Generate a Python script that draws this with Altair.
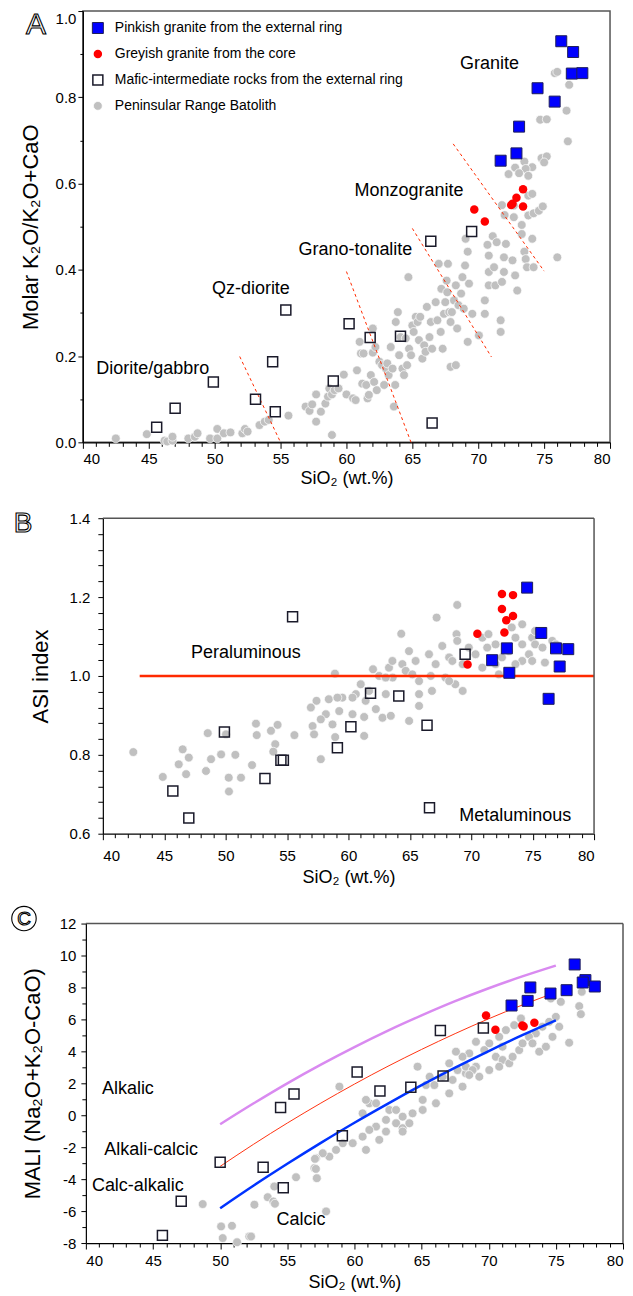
import altair as alt
import pandas as pd

FONT = "Liberation Sans"
FRAME = "#555555"
GROUPS = ["Pinkish granite from the external ring",
          "Greyish granite from the core",
          "Mafic-intermediate rocks from the external ring",
          "Peninsular Range Batolith"]
SHAPES = ["square", "circle", "square", "circle"]
FILLS = ["#0000ff", "#ff0000", "transparent", "#c0c0c0"]

# ---------------- Panel A data ----------------
A_pink_x = [76.3, 77.2, 77.1, 77.9, 74.5, 75.8, 73.1, 72.9, 71.7]
A_pink_y = [0.930, 0.905, 0.855, 0.856, 0.821, 0.790, 0.732, 0.670, 0.653]
A_grey_x = [73.4, 72.9, 72.6, 72.5, 73.4, 69.7, 70.5]
A_grey_y = [0.587, 0.567, 0.553, 0.550, 0.547, 0.540, 0.512]
A_mafic_x = [69.5, 66.4, 55.4, 54.4, 49.9, 53.1, 47.0, 54.6, 45.6, 60.2, 61.8, 64.1, 59.0, 66.5]
A_mafic_y = [0.489, 0.466, 0.307, 0.187, 0.140, 0.100, 0.079, 0.071, 0.035, 0.275, 0.243, 0.246, 0.142, 0.045]
A_prb_x = [42.5, 44.85, 46.2, 46.4, 46.8, 46.8, 48.0, 48.5, 48.7, 49.65, 50.2, 50.2, 50.7, 51.2,
           52.1, 52.3, 52.5, 53.4, 53.8, 54.1, 55.6, 56.9, 57.2, 57.4, 57.7, 57.7, 58.06,
           58.4, 58.6, 58.7, 58.9, 58.9, 59.1, 59.4, 59.8, 60.0, 60.5, 60.7, 60.8, 61.0, 61.1,
           61.2, 61.3, 61.5, 61.6, 61.7, 61.85, 62.0, 62.0, 62.1, 62.2, 62.3, 62.5, 62.7, 62.86,
           63.0, 63.1, 63.2, 63.36, 63.5, 63.6, 63.7, 63.74, 63.9, 64.0, 64.1, 64.25, 64.37, 64.5,
           64.6, 64.7, 64.75, 64.9, 65.0, 65.1, 65.26, 65.4, 65.5, 65.6, 65.76, 65.9, 66.0, 66.1,
           66.3, 66.4, 66.5, 66.77, 66.9, 67.0, 67.15, 67.2, 67.3, 67.4, 67.5, 67.6, 67.65, 67.7,
           67.8, 67.9, 67.9, 68.0, 68.16, 68.3, 68.3, 68.4, 68.5, 68.7, 68.8, 68.9, 69.0, 69.04,
           69.2, 69.2, 69.3, 69.55, 70.05, 70.5, 70.5, 70.7, 70.8, 70.8, 70.8, 71.1, 71.2, 71.3,
           71.4, 71.7, 71.7, 71.8, 71.95, 71.95, 72.1, 72.6, 72.8, 72.96, 73.3, 73.5, 73.6, 73.7,
           74.1, 74.2, 76.0,
           75.81, 76.0, 76.9, 76.7, 74.7, 75.2, 76.8, 74.8, 75.2, 75.0, 73.5, 74.1, 72.8, 73.6,
           72.3, 73.1, 73.8, 73.8, 74.1, 71.8, 72.7, 72.0, 72.7, 73.8, 74.2, 74.6, 74.9, 73.3]
A_prb_y = [0.009, 0.019, 0.004, 0.002, 0.004, 0.013, 0.009, 0.013, 0.021, 0.009, 0.031, 0.009, 0.021, 0.023,
           0.021, 0.031, 0.025, 0.040, 0.048, 0.052, 0.062, 0.083, 0.073, 0.088, 0.111, 0.048, 0.071,
           0.090, 0.106, 0.125, 0.111, 0.017, 0.121, 0.125, 0.157, 0.111, 0.102, 0.098, 0.167, 0.233, 0.206,
           0.136, 0.206, 0.133, 0.102, 0.110, 0.156, 0.264, 0.208, 0.140, 0.221, 0.121, 0.187, 0.179, 0.133,
           0.171, 0.183, 0.156, 0.221, 0.171, 0.083, 0.133, 0.279, 0.302, 0.202, 0.244, 0.171, 0.156, 0.241,
           0.179, 0.383, 0.217, 0.202, 0.271, 0.256, 0.291, 0.279, 0.237, 0.291, 0.194, 0.225, 0.210, 0.314,
           0.244, 0.279, 0.217, 0.325, 0.283, 0.414, 0.256, 0.356, 0.217, 0.298, 0.325, 0.375, 0.348, 0.414,
           0.302, 0.279, 0.175, 0.302, 0.329, 0.364, 0.179, 0.264, 0.318, 0.345, 0.383, 0.310, 0.410, 0.472,
           0.442, 0.233, 0.368, 0.298, 0.248, 0.298, 0.329, 0.458, 0.433, 0.395, 0.364, 0.478, 0.406, 0.364,
           0.464, 0.283, 0.256, 0.372, 0.395, 0.429, 0.460, 0.422, 0.387, 0.352, 0.483, 0.442, 0.425, 0.406,
           0.472, 0.406, 0.429,
           0.856, 0.859, 0.829, 0.769, 0.748, 0.749, 0.698, 0.659, 0.663, 0.649, 0.651, 0.638, 0.637, 0.634,
           0.622, 0.624, 0.618, 0.572, 0.576, 0.550, 0.549, 0.527, 0.522, 0.526, 0.531, 0.537, 0.547, 0.504]
A_seg_id = ["l1", "l1", "l2", "l2", "l3", "l3", "l4", "l4"]
A_seg_x = [51.9, 55.0, 60.0, 64.9, 65.0, 71.0, 68.1, 75.0]
A_seg_y = [0.199, 0.0, 0.396, 0.0, 0.496, 0.198, 0.692, 0.397]
A_lab_t = ["Granite", "Monzogranite", "Grano-tonalite", "Qz-diorite", "Diorite/gabbro"]
A_lab_x = [70.86, 64.75, 60.68, 52.75, 45.3]
A_lab_y = [0.878, 0.582, 0.447, 0.356, 0.171]
A_xticks = list(range(40, 81))
A_yticks = [0.0, 0.1, 0.2, 0.3, 0.4, 0.5, 0.6, 0.7, 0.8, 0.9, 1.0]

# ---------------- Panel B data ----------------
B_pink_x = [74.55, 75.7, 76.9, 77.9, 72.9, 71.7, 77.2, 73.1, 76.3]
B_pink_y = [1.224, 1.109, 1.070, 1.068, 1.070, 1.040, 1.024, 1.008, 0.942]
B_grey_x = [72.5, 73.4, 72.5, 72.85, 73.4, 72.7, 70.5, 69.7]
B_grey_y = [1.208, 1.205, 1.170, 1.141, 1.152, 1.110, 1.107, 1.029]
B_mafic_x = [69.5, 55.45, 61.8, 64.1, 66.4, 60.2, 59.1, 49.9, 54.5, 54.7, 53.2, 45.7, 47.0, 66.6]
B_mafic_y = [1.055, 1.150, 0.956, 0.949, 0.875, 0.871, 0.818, 0.858, 0.786, 0.786, 0.740, 0.708, 0.640, 0.666]
B_prb_x = [68.86, 67.18, 64.3, 58.9, 62.0, 68.8, 68.86, 67.64, 66.56, 64.93, 65.47, 64.39, 63.3, 62.5,
           61.0, 61.68, 59.5, 57.4, 58.4, 60.6, 63.6, 64.66, 67.1, 68.2, 69.3, 70.35, 70.9, 71.4,
           71.3, 71.98, 72.25, 71.98, 73.3, 74.15, 73.6, 74.15, 74.96, 75.2, 74.7, 74.15, 73.6,
           74.96, 75.8, 76.0, 76.6, 76.9, 75.2, 73.06, 72.5, 68.7, 69.3, 65.75, 63.0, 67.9, 69.8,
           70.9, 66.7,
           63.58, 63.04, 65.2, 65.75, 68.46, 68.2, 65.75, 63.04, 61.4, 60.33, 59.1, 56.94, 58.16,
           59.25, 60.33, 61.28, 62.23, 62.77, 63.45, 64.94, 66.8, 57.75, 57.08, 57.2, 58.7, 58.92,
           61.28, 57.75, 55.6, 54.23, 53.69, 54.04, 53.88, 52.47, 52.53, 52.15, 50.79, 50.25, 51.25,
           49.63, 48.81, 48.4, 46.78, 47.0, 46.5, 46.18, 44.88, 48.54, 50.03, 42.48, 50.27]
B_prb_y = [1.180, 1.148, 1.107, 1.006, 1.017, 1.106, 1.089, 1.076, 1.055, 1.063, 1.038, 1.030, 1.021, 1.000,
           0.979, 0.962, 0.945, 0.937, 0.941, 0.954, 0.996, 1.013, 1.030, 1.047, 1.030, 1.055, 1.097, 1.106,
           1.072, 1.080, 1.004, 1.030, 1.123, 1.131, 1.097, 1.080, 1.097, 1.080, 1.055, 1.038, 1.030,
           1.038, 1.072, 1.034, 1.089, 1.080, 1.114, 1.063, 1.047, 0.979, 0.962, 0.924, 0.996, 0.996, 1.072,
           1.021, 1.000,
           1.038, 0.996, 1.004, 0.987, 1.038, 0.987, 0.954, 0.954, 0.937, 0.945, 0.945, 0.920, 0.903,
           0.911, 0.903, 0.896, 0.916, 0.894, 0.899, 0.886, 0.962, 0.890, 0.873, 0.852, 0.877, 0.845,
           0.848, 0.789, 0.850, 0.876, 0.861, 0.827, 0.808, 0.879, 0.850, 0.774, 0.800, 0.742, 0.742,
           0.801, 0.789, 0.759, 0.751, 0.793, 0.814, 0.776, 0.744, 0.855, 0.852, 0.807, 0.707]
B_line_x = [43.0, 80.0]
B_line_y = [1.0, 1.0]
B_lab_t = ["Peraluminous", "Metaluminous"]
B_lab_x = [51.65, 73.58]
B_lab_y = [1.057, 0.645]
B_xdom = [40, 80]
B_ydom = [0.6, 1.4]
B_xticks = list(range(40, 81))
B_yticks = [0.6, 0.64, 0.68, 0.72, 0.76, 0.8, 0.84, 0.88, 0.92, 0.96, 1.0,
            1.04, 1.08, 1.12, 1.16, 1.2, 1.24, 1.28, 1.32, 1.36, 1.4]

# ---------------- Panel C data ----------------
C_pink_x = [76.4, 77.2, 77.9, 77.0, 75.8, 74.6, 73.1, 72.9, 71.7]
C_pink_y = [9.44, 8.46, 8.06, 8.31, 7.83, 7.62, 8.00, 7.16, 6.87]
C_grey_x = [69.8, 70.5, 72.5, 73.4, 72.6]
C_grey_y = [6.25, 5.35, 5.62, 5.79, 5.55]
C_mafic_x = [69.6, 66.4, 60.2, 50.0, 53.2, 54.5, 55.5, 54.7, 47.1, 45.7, 61.9, 64.2, 66.6, 59.1]
C_mafic_y = [5.46, 5.31, 2.71, -2.94, -3.25, 0.48, 1.33, -4.54, -5.38, -7.52, 1.52, 1.75, 2.46, -1.29]
C_prb_x = [76.93, 76.74, 76.86, 75.99, 74.63, 75.37, 75.0, 74.5, 74.0, 73.51, 73.0, 72.4, 71.9, 71.28,
           70.78, 71.03, 70.53, 70.04, 69.67, 69.05, 68.55, 68.05, 67.56, 67.06, 67.68, 66.57, 68.3,
           69.05, 70.04, 71.03, 71.53, 71.78, 72.27, 72.52, 73.26, 73.76, 74.26, 74.75, 75.25, 64.7,
           65.6, 65.33, 58.88,
           68.3, 68.8, 69.3, 70.78, 68.05, 67.06, 66.07, 65.08, 64.33, 63.59, 63.1, 62.35, 61.61,
           61.11, 60.61, 59.87, 59.13, 58.63, 58.13, 57.64, 57.14, 57.02, 57.19, 57.89, 61.11, 61.61,
           62.6, 63.59, 64.09, 65.08, 65.95, 67.31, 68.55, 60.61, 60.86, 61.85, 62.35, 63.1, 60.86,
           63.59,
           48.7, 50.07, 50.19, 50.88, 51.26, 52.17, 52.3, 52.55, 53.54, 53.96, 54.08, 55.65, 57.06,
           57.13, 57.2, 54.03]
C_prb_y = [7.73, 6.83, 6.33, 4.54, 7.31, 7.10, 6.16, 5.85, 5.54, 5.12, 4.91, 6.06, 5.64, 5.33,
           4.91, 4.29, 3.66, 4.50, 4.08, 4.60, 3.87, 3.66, 3.98, 3.25, 2.83, 2.41, 2.62,
           3.04, 2.83, 3.46, 3.25, 3.66, 4.08, 4.50, 4.50, 3.98, 4.29, 4.91, 5.54, 3.04,
           2.41, 1.89, 1.79,
           3.04, 2.83, 2.41, 3.04, 1.79, 1.37, 0.75, 0.33, 0.12, -0.09, -0.50, -0.29, -0.71,
           -0.92, -1.34, -1.75, -1.75, -2.17, -2.59, -2.38, -2.69, -3.31, -3.94, -6.02, 0.75, 0.75,
           0.33, -0.81, -0.50, 0.96, 1.89, 2.21, 2.52, 0.12, -2.17, -1.54, -1.02, 0.33, 0.96,
           -1.02,
           -5.56, -6.96, -7.69, -6.92, -7.95, -7.59, -7.59, -5.60, -5.13, -5.40, -5.54, -3.88, -2.73,
           -3.36, -3.94, -4.46]
C_curve_x = [50.0, 52.5, 55.0, 57.5, 60.0, 62.5, 65.0, 67.5, 70.0, 72.5, 75.0]
C_alkalic_y = [-0.56, 0.75, 2.00, 3.17, 4.27, 5.30, 6.25, 7.14, 7.95, 8.69, 9.37]
C_alkcalc_y = [-3.20, -1.81, -0.49, 0.76, 1.95, 3.07, 4.12, 5.11, 6.04, 6.90, 7.69]
C_calcalk_y = [-5.82, -4.40, -3.04, -1.73, -0.47, 0.73, 1.88, 2.98, 4.02, 5.01, 5.94]
C_lab_t = ["Alkalic", "Alkali-calcic", "Calc-alkalic", "Calcic"]
C_lab_x = [43.13, 44.86, 43.87, 56.02]
C_lab_y = [1.63, -2.17, -4.46, -6.54]
C_xdom = [40, 80]
C_ydom = [-8, 12]
C_xticks = list(range(40, 81))
C_yticks = list(range(-8, 13))


def pts(xs, ys, g):
    return pd.DataFrame({"x": xs, "y": ys, "g": g})


def point_enc(strokes, sizes, widths, legend):
    return dict(
        shape=alt.Shape("g:N", scale=alt.Scale(domain=GROUPS, range=SHAPES), legend=legend),
        fill=alt.Fill("g:N", scale=alt.Scale(domain=GROUPS, range=FILLS), legend=legend),
        stroke=alt.Stroke("g:N", scale=alt.Scale(domain=GROUPS, range=strokes), legend=legend),
        size=alt.Size("g:N", scale=alt.Scale(type="ordinal", domain=GROUPS, range=sizes), legend=legend),
        strokeWidth=alt.StrokeWidth("g:N", scale=alt.Scale(type="ordinal", domain=GROUPS, range=widths),
                                    legend=legend),
    )


def x_axis(ticks, title, label_pad, title_pad):
    return alt.Axis(values=ticks, title=title, labelExpr="datum.value % 5 == 0 ? '' + datum.value : ''",
                    tickSize={"condition": {"test": "datum.value % 5 == 0", "value": 6}, "value": 4},
                    labelPadding=label_pad, titlePadding=title_pad, labelFontSize=15, titleFontSize=18,
                    labelOverlap=False)


def anchor(x, y1, y2):
    return alt.Chart(pd.DataFrame({"a": [0]})).mark_rule(color="white", strokeWidth=0.5).encode(
        x=alt.value(x), y=alt.value(y1), y2=alt.value(y2))


def letter(t, x, y, size):
    return alt.Chart(pd.DataFrame({"t": [t]})).mark_text(
        font=FONT, fontSize=size, fill="white", stroke="black", strokeWidth=1.1,
        align="center", baseline="middle").encode(x=alt.value(x), y=alt.value(y), text="t:N")


def labels(ts, xs, ys, X, Y):
    return alt.Chart(pd.DataFrame({"t": ts, "x": xs, "y": ys})).mark_text(
        font=FONT, fontSize=18, color="black", align="center", baseline="middle").encode(
        x=X, y=Y, text="t:N")


def curve(xs, ys, color, width, X, Y):
    return alt.Chart(pd.DataFrame({"x": xs, "y": ys})).mark_line(
        interpolate="monotone", color=color, strokeWidth=width).encode(x=X, y=Y)


def frame(xdom, ydom, X, Y):
    """top and right border of the plot, drawn through the panel's own scales and axes"""
    top = alt.Chart(pd.DataFrame({"x": [xdom[0]], "x2": [xdom[1]], "y": [ydom[1]]})).mark_rule(
        color=FRAME, strokeWidth=1.5).encode(x=X, x2="x2:Q", y=Y)
    right = alt.Chart(pd.DataFrame({"x": [xdom[1]], "y": [ydom[0]], "y2": [ydom[1]]})).mark_rule(
        color=FRAME, strokeWidth=1.5).encode(x=X, y=Y, y2="y2:Q")
    return top, right


# ---------------- Panel A ----------------
XA = alt.X("x:Q", scale=alt.Scale(domain=[40, 80], nice=False, zero=False),
           axis=x_axis(A_xticks, "SiO₂ (wt.%)", 3, 3))
YA = alt.Y("y:Q", scale=alt.Scale(domain=[0, 1], nice=False, zero=False),
           axis=alt.Axis(values=A_yticks, title="Molar K₂O/K₂O+CaO",
                         labelExpr="round(datum.value*10) % 2 == 0 ? format(datum.value, '.1f') : ''",
                         tickSize={"condition": {"test": "round(datum.value*10) % 2 == 0", "value": 5}, "value": 3},
                         labelBaseline={"condition": {"test": "datum.value > 0.99", "value": "top"}, "value": "middle"},
                         labelPadding=2, titlePadding=13, labelFontSize=15, titleFontSize=22,
                         labelOverlap=False))
legA = alt.Legend(title=None, orient="none", legendX=8, legendY=10, padding=0,
                  labelFont=FONT, labelFontSize=14, labelColor="black", rowPadding=11,
                  labelOffset=10, labelLimit=400)
encA = point_enc(["#1e1e5a", "#ff0000", "#1a1a2a", "#ffffff"], [121, 72, 100, 78], [1, 0, 1.5, 0.7], legA)

A_gray = alt.Chart(pts(A_prb_x, A_prb_y, GROUPS[3])).mark_point(filled=True, opacity=1).encode(x=XA, y=YA, **encA)
A_top = alt.Chart(pd.concat([pts(A_mafic_x, A_mafic_y, GROUPS[2]),
                             pts(A_grey_x, A_grey_y, GROUPS[1]),
                             pts(A_pink_x, A_pink_y, GROUPS[0])])).mark_point(filled=True, opacity=1).encode(
    x=XA, y=YA, **encA)
A_lines = alt.Chart(pd.DataFrame({"s": A_seg_id, "x": A_seg_x, "y": A_seg_y})).mark_line(
    color="#ff2a00", strokeWidth=1, strokeDash=[3, 3]).encode(x=XA, y=YA, detail="s:N")
panelA = alt.layer(
    anchor(-72, -1, 2), A_gray, A_lines, A_top,
    labels(A_lab_t, A_lab_x, A_lab_y, XA, YA),
    letter("A", -47, 14, 30),
).properties(width=528, height=432)

# ---------------- Panel B ----------------
# plot area starts at the same x as panel A; the data range starts 20 px further right
XB = alt.X("x:Q", scale=alt.Scale(domain=B_xdom, range=[20, 512], nice=False, zero=False),
           axis=x_axis(B_xticks, "SiO₂ (wt.%)", 9, 5))
YB = alt.Y("y:Q", scale=alt.Scale(domain=B_ydom, nice=False, zero=False),
           axis=alt.Axis(values=B_yticks, title="ASI index", offset=-20,
                         labelExpr="abs(datum.value*5 - round(datum.value*5)) < 0.001 ? format(datum.value, '.1f') : ''",
                         tickSize=5, labelPadding=8, titlePadding=17, labelFontSize=15, titleFontSize=22,
                         labelOverlap=False))
encB = point_enc(["#7f7fff", "#ff0000", "#1a1a2a", "#ffffff"], [144, 140, 170, 125], [1, 0, 1.5, 0.7], None)
B_gray = alt.Chart(pts(B_prb_x, B_prb_y, GROUPS[3])).mark_point(filled=True, opacity=1).encode(x=XB, y=YB, **encB)
B_top = alt.Chart(pd.concat([pts(B_mafic_x, B_mafic_y, GROUPS[2]),
                             pts(B_grey_x, B_grey_y, GROUPS[1]),
                             pts(B_pink_x, B_pink_y, GROUPS[0])])).mark_point(filled=True, opacity=1).encode(
    x=XB, y=YB, **encB)
B_line = alt.Chart(pd.DataFrame({"x": B_line_x, "y": B_line_y})).mark_line(
    color="#ff2a00", strokeWidth=2.5).encode(x=XB, y=YB)
B_ftop, B_fright = frame(B_xdom, B_ydom, XB, YB)
panelB = alt.layer(
    B_gray, B_line, B_top, B_ftop, B_fright,
    labels(B_lab_t, B_lab_x, B_lab_y, XB, YB),
    letter("B", -60, 6, 28),
).properties(width=512, height=316, view=alt.ViewBackground(stroke="transparent"))

# ---------------- Panel C ----------------
# plot area starts 14 px above the data range and 3 px left of it
XC = alt.X("x:Q", scale=alt.Scale(domain=C_xdom, range=[3, 541], nice=False, zero=False),
           axis=x_axis(C_xticks, "SiO₂  (wt.%)", 4, 6))
YC = alt.Y("y:Q", scale=alt.Scale(domain=C_ydom, range=[334, 14], nice=False, zero=False),
           axis=alt.Axis(values=C_yticks, title="MALI (Na₂O+K₂O-CaO)", offset=-3,
                         labelExpr="datum.value % 2 == 0 ? '' + datum.value : ''",
                         tickSize={"condition": {"test": "datum.value % 2 == 0", "value": 5}, "value": 4},
                         labelPadding=5, titlePadding=15, labelFontSize=15, titleFontSize=22,
                         labelOverlap=False))
encC = point_enc(["#8888ff", "#ff0000", "#1a1a2a", "#ffffff"], [140, 110, 144, 125], [1, 0, 1.5, 0.7], None)
C_gray = alt.Chart(pts(C_prb_x, C_prb_y, GROUPS[3])).mark_point(filled=True, opacity=1).encode(x=XC, y=YC, **encC)
C_top = alt.Chart(pd.concat([pts(C_mafic_x, C_mafic_y, GROUPS[2]),
                             pts(C_grey_x, C_grey_y, GROUPS[1]),
                             pts(C_pink_x, C_pink_y, GROUPS[0])])).mark_point(filled=True, opacity=1).encode(
    x=XC, y=YC, **encC)
C_circle = alt.Chart(pd.DataFrame({"a": [0]})).mark_point(
    shape="circle", size=600, filled=False, stroke="black", strokeWidth=1.1, opacity=1).encode(
    x=alt.value(-59), y=alt.value(9))
C_ftop, C_fright = frame(C_xdom, C_ydom, XC, YC)
panelC = alt.layer(
    C_gray,
    curve(C_curve_x, C_alkalic_y, "#d98af0", 2.5, XC, YC),
    curve(C_curve_x, C_alkcalc_y, "#ff3311", 1, XC, YC),
    curve(C_curve_x, C_calcalk_y, "#0033ff", 2.5, XC, YC),
    C_top, C_ftop, C_fright,
    labels(C_lab_t, C_lab_x, C_lab_y, XC, YC),
    C_circle, letter("C", -59, 9, 19),
).properties(width=541, height=334, view=alt.ViewBackground(stroke="transparent"))

chart = alt.vconcat(panelA, panelB, panelC, spacing=76, bounds="flush").properties(
    padding=0
).configure_view(stroke=FRAME, strokeWidth=1.5).configure_axis(
    grid=False, labelFont=FONT, titleFont=FONT, labelColor="black", titleColor="black",
    domainColor="black", tickColor="black", titleFontWeight="normal", domainWidth=1.2, tickWidth=1
)

chart.save("out.html", embed_options={"renderer": "svg", "actions": False})
